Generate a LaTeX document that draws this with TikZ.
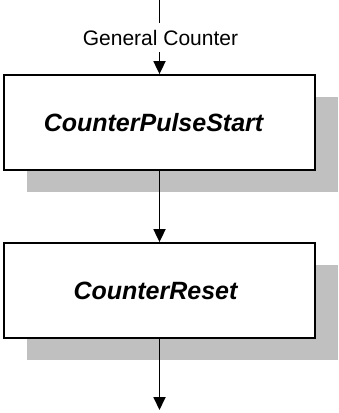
\documentclass[tikz,border=0pt]{standalone}
\usepackage{fontspec}
\setmainfont{Liberation Sans}
\usetikzlibrary{arrows.meta,shadows}
\definecolor{shadowgray}{HTML}{C0C0C0}
\begin{document}
\begin{tikzpicture}[x=1pt,y=-1pt,
  stepbox/.style={draw=black, line width=1.8pt, fill=white, minimum width=311pt, minimum height=95pt, inner sep=0pt,
    font=\fontsize{25}{28}\selectfont\bfseries\itshape,
    general shadow={fill=shadowgray, shadow xshift=23pt, shadow yshift=-22pt}},
  conn/.style={line width=1.8pt, black},
  arr/.style={conn, -{Triangle[length=13pt,width=12pt]}},
  lbl/.style={font=\fontsize{21}{24}\selectfont, inner sep=0pt, minimum height=29pt}]
\useasboundingbox (0,0) rectangle (339,413);
\coordinate (top) at (159.5,0);
\node[lbl] (gc) at (160.5,37.5) {General Counter};
\node[stepbox] (b1) at (159.5,122.5) {\hspace*{-12pt}CounterPulseStart};
\node[stepbox] (b2) at (159.5,290.5) {\hspace*{-8pt}CounterReset};
\coordinate (end) at (159.5,410);
\draw[conn] (top) -- (top |- gc.north);
\draw[arr] (top |- gc.south) -- (b1.north);
\draw[arr] (b1) -- (b2);
\draw[arr] (b2) -- (end);
\end{tikzpicture}
\end{document}
